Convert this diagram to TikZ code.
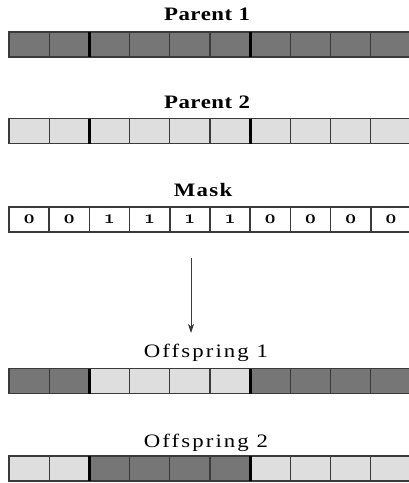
\documentclass[tikz,border=0pt]{standalone}
\usepackage{fontspec}
\setmainfont{Liberation Serif}
\newfontfamily\titlefont[FakeStretch=1.2, LetterSpace=3]{Liberation Serif}
\newfontfamily\masktitlefont[FakeStretch=1.2, LetterSpace=7]{Liberation Serif}
\newfontfamily\widetitlefont[FakeStretch=1.2, LetterSpace=11]{Liberation Serif}
\newfontfamily\digitfont[Numbers=OldStyle]{Latin Modern Roman}
\usetikzlibrary{positioning, arrows.meta}

\begin{document}
\begin{tikzpicture}[>={Stealth[length=9pt, width=6pt, inset=2.5pt]}, x=1pt, y=-1pt, font=\large]
			\definecolor{darkcell}{RGB}{118,118,118}
			\definecolor{lightcell}{RGB}{222,222,222}
			\definecolor{edgegray}{RGB}{58,58,58}
			\tikzset{
				cell/.style={draw=edgegray, line width=1.2pt, minimum width=40.2pt, minimum height=25pt, inner sep=0pt, outer sep=0pt},
				title/.style={anchor=base, font=\titlefont\fontsize{19}{21}\selectfont\bfseries},
				masktitle/.style={anchor=base, font=\masktitlefont\fontsize{19}{21}\selectfont\bfseries},
				widetitle/.style={anchor=base, font=\widetitlefont\fontsize{19}{21}\selectfont},
				cut/.style={line width=3pt, black}
			}
			\useasboundingbox (0,0) rectangle (409,483);

			% Parent 1
			\node[title] (t-p1) at (207,20) {Parent 1};
			\foreach \i in {1,...,10}
				\node[cell, fill=darkcell] (p1-\i) at ({9+40.2*(\i-0.5)},44.5) {};
			\draw[cut] (p1-2.north east) -- (p1-2.south east);
			\draw[cut] (p1-6.north east) -- (p1-6.south east);

			% Parent 2
			\node[title] (t-p2) at (207,108) {Parent 2};
			\foreach \i in {1,...,10}
				\node[cell, fill=lightcell] (p2-\i) at ({9+40.2*(\i-0.5)},131) {};
			\draw[cut] (p2-2.north east) -- (p2-2.south east);
			\draw[cut] (p2-6.north east) -- (p2-6.south east);

			% Mask
			\node[masktitle] (t-m) at (203,196) {Mask};
			\foreach \i/\b in {1/0,2/0,3/1,4/1,5/1,6/1,7/0,8/0,9/0,10/0}
				\node[cell, fill=white, line width=1.5pt, font=\digitfont\fontsize{19}{20}\selectfont\bfseries] (m-\i) at ({9+40.2*(\i-0.5)},219.5) {\b};

			% arrow
			\coordinate (a-top) at (191,258);
			\coordinate (a-end) at (191,333);
			\draw[->, edgegray, line width=1pt] (a-top) -- (a-end);

			% Offspring 1
			\node[widetitle] (t-o1) at (206,357) {Offspring 1};
			\foreach \i/\c in {1/darkcell,2/darkcell,3/lightcell,4/lightcell,5/lightcell,6/lightcell,7/darkcell,8/darkcell,9/darkcell,10/darkcell}
				\node[cell, fill=\c] (o1-\i) at ({9+40.2*(\i-0.5)},381) {};
			\draw[cut] (o1-2.north east) -- (o1-2.south east);
			\draw[cut] (o1-6.north east) -- (o1-6.south east);

			% Offspring 2
			\node[widetitle] (t-o2) at (206,447) {Offspring 2};
			\foreach \i/\c in {1/lightcell,2/lightcell,3/darkcell,4/darkcell,5/darkcell,6/darkcell,7/lightcell,8/lightcell,9/lightcell,10/lightcell}
				\node[cell, fill=\c] (o2-\i) at ({9+40.2*(\i-0.5)},468.5) {};
			\draw[cut] (o2-2.north east) -- (o2-2.south east);
			\draw[cut] (o2-6.north east) -- (o2-6.south east);
		\end{tikzpicture}
\end{document}
